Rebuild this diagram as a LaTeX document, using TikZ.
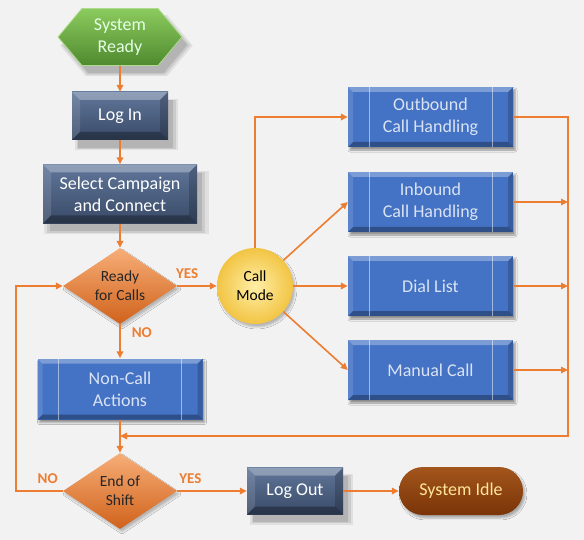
\documentclass[tikz,border=0pt]{standalone}
\usepackage{fontspec}
\setmainfont{Carlito}
\usetikzlibrary{arrows.meta, positioning, shapes.geometric, shapes.symbols, shadows, shadows.blur}

\definecolor{bgcol}{HTML}{F2F2F2}
\definecolor{flowline}{HTML}{ED7D31}
\definecolor{greentop}{HTML}{8CCB5E}
\definecolor{greenbot}{HTML}{4F8A2F}
\definecolor{slatetop}{HTML}{60769A}
\definecolor{slatebot}{HTML}{394A67}
\definecolor{procblue}{HTML}{4472C4}
\definecolor{proctext}{HTML}{DAE3F3}
\definecolor{orangetop}{HTML}{F7AE78}
\definecolor{orangebot}{HTML}{D0621B}
\definecolor{modein}{HTML}{FFEFA6}
\definecolor{modeout}{HTML}{F2C443}
\definecolor{idletop}{HTML}{A3561C}
\definecolor{idlebot}{HTML}{7A3408}
\definecolor{idletext}{HTML}{FFE699}

% bevelled edges inside a box
\newcommand\drawbevel[1]{%
  \coordinate (bsw) at (path picture bounding box.south west);
  \coordinate (bse) at (path picture bounding box.south east);
  \coordinate (bnw) at (path picture bounding box.north west);
  \coordinate (bne) at (path picture bounding box.north east);
  \fill[white,opacity=.30] (bnw) -- (bne) -- ([shift={(-#1,-#1)}]bne) -- ([shift={(#1,-#1)}]bnw) -- cycle;
  \fill[white,opacity=.12] (bnw) -- (bsw) -- ([shift={(#1,#1)}]bsw) -- ([shift={(#1,-#1)}]bnw) -- cycle;
  \fill[black,opacity=.30] (bsw) -- (bse) -- ([shift={(-#1,#1)}]bse) -- ([shift={(#1,#1)}]bsw) -- cycle;
  \fill[black,opacity=.18] (bse) -- (bne) -- ([shift={(-#1,-#1)}]bne) -- ([shift={(-#1,#1)}]bse) -- cycle;
}

\begin{document}
\begin{tikzpicture}[x=1pt, y=1pt, node distance=78pt, on grid,
    >={Triangle[length=7pt,width=6.5pt]},
    flow/.style={draw=flowline, line width=1.6pt},
    softshadow/.style={
      general shadow={fill=black, opacity=.07, shadow xshift=6pt, shadow yshift=-8pt, shadow scale=1.07},
      general shadow={fill=black, opacity=.09, shadow xshift=6pt, shadow yshift=-8pt, shadow scale=1.03},
      general shadow={fill=black, opacity=.11, shadow xshift=6pt, shadow yshift=-8pt, shadow scale=.99}},
    every node/.style={align=center, inner sep=0pt}]
  \tikzstyle{boxfont}=[font=\fontsize{18}{22}\selectfont]
  \tikzstyle{hexa}=[boxfont, shape=signal, signal to=west and east, signal pointer angle=100,
    minimum width=124pt, minimum height=57pt, top color=greentop, bottom color=greenbot,
    draw=greentop!70!white, line width=.8pt, text=green!10!white, softshadow]
  \tikzstyle{slatebox}=[boxfont, rectangle, top color=slatetop, bottom color=slatebot,
    text=white, path picture={\drawbevel{8pt}}, softshadow]
  \tikzstyle{procbox}=[boxfont, rectangle, fill=procblue, text=proctext,
    minimum width=165pt, minimum height=60pt,
    path picture={\drawbevel{5pt}
      \draw[white,opacity=.5,line width=.9pt] ([xshift=21pt]bnw) -- ([xshift=21pt]bsw)
        ([xshift=-21pt]bne) -- ([xshift=-21pt]bse);},
    blur shadow={shadow xshift=2pt, shadow yshift=-3pt, shadow opacity=40, shadow blur radius=2pt}]
  \tikzstyle{decision}=[diamond, aspect=1.5, minimum width=114pt, minimum height=76pt,
    top color=orangetop, bottom color=orangebot, text=black!85,
    font=\fontsize{15.5}{19}\selectfont,
    blur shadow={shadow xshift=2pt, shadow yshift=-3pt, shadow opacity=25}]
  \tikzstyle{modecircle}=[circle, minimum size=76pt, inner color=modein, outer color=modeout,
    text=black, font=\fontsize{15.5}{19}\selectfont,
    blur shadow={shadow xshift=2pt, shadow yshift=-3pt, shadow opacity=25}]
  \tikzstyle{idlebox}=[boxfont, rectangle, rounded corners=24pt, minimum width=124pt,
    minimum height=48pt, top color=idletop, bottom color=idlebot, text=idletext,
    blur shadow={shadow xshift=2pt, shadow yshift=-3pt, shadow opacity=30}]
  \tikzstyle{yesno}=[text=flowline, font=\fontsize{15}{17}\selectfont\bfseries]

  \path[use as bounding box, fill=bgcol] (0,0) rectangle (584,-540);

  % Nodes
  \node[hexa] (sysready) at (120,-37) {System\\Ready};
  \node[slatebox, minimum width=96pt, minimum height=48pt] (login) [below=79pt of sysready] {Log In};
  \node[slatebox, minimum width=154pt, minimum height=59pt] (select) [below=of login] {Select Campaign\\and Connect};
  \node[decision] (ready) [below=92pt of select] {Ready\\for Calls};
  \node[procbox, minimum height=61pt] (noncall) [below=103pt of ready] {Non-Call\\Actions};
  \node[decision] (endshift) [below=102pt of noncall] {End of\\Shift};
  \node[slatebox, minimum width=96pt, minimum height=47pt] (logout) [right=175pt of endshift] {Log Out};
  \node[idlebox] (idle) [right=166pt of logout] {System Idle};
  \node[modecircle] (callmode) [right=135pt of ready] {Call\\Mode};
  \node[procbox] (dial) [right=175.5pt of callmode] {Dial List};
  \node[procbox] (inbound) [above=84pt of dial] {Inbound\\Call Handling};
  \node[procbox] (outbound) [above=85pt of inbound] {Outbound\\Call Handling};
  \node[procbox] (manual) [below=84pt of dial] {Manual Call};

  \coordinate[below=47pt of noncall] (merge);
  \coordinate[right=137.5pt of outbound] (rail);

  % Connectors
  \draw[flow,->] (sysready) -- (login);
  \draw[flow,->] (login) -- (select);
  \draw[flow,->] (select) -- (ready);
  \draw[flow,->] (ready) -- node[yesno, above=7pt, pos=.25] (yes1) {YES} (callmode);
  \draw[flow,->] (ready) -- node[yesno, right=11pt, pos=.25] (no1) {NO} (noncall);
  \draw[flow,->] (noncall) -- (endshift);
  \draw[flow,->] (endshift) -- node[yesno, above=7pt, pos=.19] (yes2) {YES} (logout);
  \draw[flow,->] (logout) -- (idle);
  \draw[flow,->] (endshift.west) -- node[yesno, above=7pt, pos=.32] (no2) {NO} ++(-47pt,0) |- (ready.west);
  \draw[flow,->] (callmode.north) |- (outbound.west);
  \draw[flow,->] (callmode) -- (inbound.west);
  \draw[flow,->] (callmode) -- (dial);
  \draw[flow,->] (callmode) -- (manual.west);
  \draw[flow,->] (outbound.east) -- (rail) |- (merge);
  \foreach \src in {inbound, dial, manual}
    \draw[flow,->] (\src.east) -- (rail |- \src.east);
\end{tikzpicture}
\end{document}
